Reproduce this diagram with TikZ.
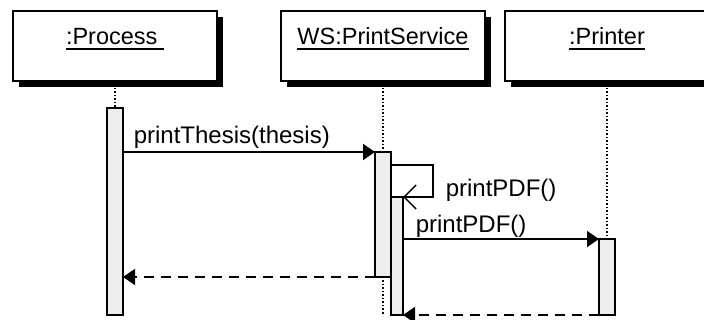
\documentclass[tikz,border=0pt]{standalone}
\usepackage{fontspec}
\setmainfont{Liberation Sans}
\usetikzlibrary{arrows.meta, positioning, shadows, backgrounds}
\definecolor{actfill}{RGB}{238,238,238}
\newcommand{\objul}[1]{\setbox0\hbox{#1}\rlap{\rule[-5pt]{\wd0}{1.5pt}}\box0}

\begin{document}
\begin{tikzpicture}[
    x=1pt, y=-1pt,
    node distance=20pt,
    objbox/.style={rectangle, draw=black, line width=1.5pt, fill=white, minimum width=204pt, minimum height=70pt, inner sep=0pt, outer sep=0pt, general shadow={fill=black, opacity=1, shadow xshift=6pt, shadow yshift=-6pt}},
    objname/.style={font=\fontsize{23.5pt}{28pt}\selectfont, inner sep=0pt},
    act/.style={rectangle, draw=black, line width=1.5pt, fill=actfill, minimum width=16pt, inner sep=0pt, outer sep=0pt},
    lifeline/.style={line width=1.5pt, dash pattern=on 1.5pt off 2pt},
    msg/.style={line width=1.5pt, -{Triangle[length=12pt, width=16pt]}},
    ret/.style={msg, dash pattern=on 10pt off 7pt},
    selfmsg/.style={line width=1.5pt, -{Straight Barb[length=12pt, width=24pt]}},
    lbl/.style={font=\fontsize{24pt}{28pt}\selectfont, inner sep=0pt}
]
\useasboundingbox (0,0) rectangle (704,320);
% objects
\node[objbox] (proc) at (115,46) {};
\node[objbox, right=64pt of proc] (ps) {};
\node[objbox, right=20pt of ps] (pr) {};
\node[objname, anchor=base] (procname) at ([yshift=-34pt]proc.north) {\objul{:Process\ }};
\node[objname, anchor=base] (psname) at ([yshift=-34pt]ps.north) {\objul{WS:PrintService}};
\node[objname, anchor=base] (prname) at ([yshift=-34pt]pr.north) {\objul{:Printer}};

% activations
\node[act, minimum height=207pt, below=27pt of proc] (pact) {};
\node[act, minimum height=125pt, below=71pt of ps] (psa) {};
\node[act, minimum width=12pt, minimum height=118pt, anchor=north west] (psb) at ([yshift=-45pt]psa.north east) {};
\node[act, minimum height=76pt, below=158pt of pr] (pra) {};

% lifelines
\begin{scope}[on background layer]
\draw[lifeline] (proc.south) -- (pact.north);
\draw[lifeline] (ps.south) -- (ps.south |- psb.south);
\draw[lifeline] (pr.south) -- (pra.north);
\end{scope}

% messages
\draw[msg] (pact.east |- psa.north) -- (psa.north west)
    node[lbl, pos=0, anchor=base west, xshift=10pt, yshift=8pt] {printThesis(thesis)};
\draw[selfmsg] ([yshift=-13pt]psa.north east) -- ++(42pt,0) |- (psb.north east)
    node[lbl, pos=0.5, anchor=base west, xshift=12pt] {printPDF()};
\draw[msg] (psb.east |- pra.north) -- (pra.north west)
    node[lbl, pos=0, anchor=base west, xshift=12pt, yshift=6pt] {printPDF()};
\draw[ret] (psa.south west) -- (pact.east |- psa.south);
\draw[ret] (pra.south west) -- (psb.south east);
\end{tikzpicture}
\end{document}
